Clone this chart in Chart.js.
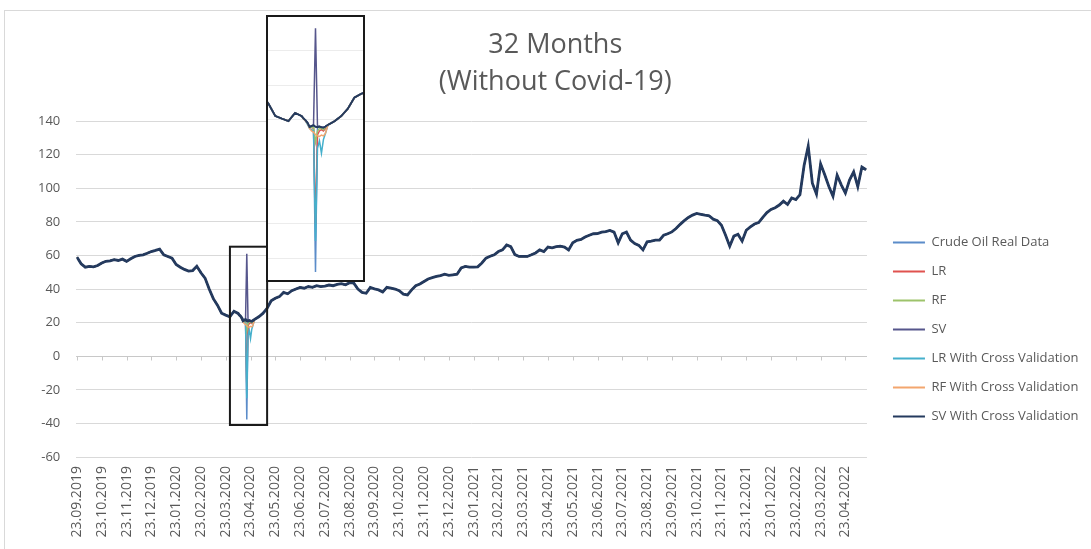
<!DOCTYPE html>
<html>
<head>
<meta charset="utf-8">
<title>32 Months (Without Covid-19)</title>
<script src="https://cdn.jsdelivr.net/npm/chart.js@4.4.1/dist/chart.umd.min.js"></script>
<style>
  html, body { margin: 0; padding: 0; background: #fff; overflow: hidden; }
  #frame { position: absolute; left: 4px; top: 10px; width: 1200px; height: 700px; border: 1px solid #d9d9d9; }
  #main { position: absolute; left: 0; top: 0; }
  #inset { position: absolute; left: 266px; top: 15px; width: 99px; height: 267px; box-sizing: border-box; border: 2px solid #1a1a1a; background: #fff; }
  #insetChart { display: block; }
</style>
</head>
<body>
<div id="frame"></div>
<canvas id="main" width="1091" height="549"></canvas>
<div id="inset"><canvas id="insetChart" width="95" height="263"></canvas></div>
<script>
// x axis labels (one per month, starting 23.09.2019)
const tickLabels = [
  '23.09.2019', '23.10.2019', '23.11.2019', '23.12.2019',
  '23.01.2020', '23.02.2020', '23.03.2020', '23.04.2020', '23.05.2020', '23.06.2020',
  '23.07.2020', '23.08.2020', '23.09.2020', '23.10.2020', '23.11.2020', '23.12.2020',
  '23.01.2021', '23.02.2021', '23.03.2021', '23.04.2021', '23.05.2021', '23.06.2021',
  '23.07.2021', '23.08.2021', '23.09.2021', '23.10.2021', '23.11.2021', '23.12.2021',
  '23.01.2022', '23.02.2022', '23.03.2022', '23.04.2022'
];

// crude oil price, 6 readings per month (null = covered by the daily window below)
const POINTS_PER_MONTH = 6;
const crudeOil = [
  59, 55, 53, 53.5, 53.2, 54,
  55.5, 56.5, 56.8, 57.5, 57, 57.8,
  56.5, 58, 59.4, 60, 60.4, 61.3,
  62.3, 63, 63.8, 60.4, 59.4, 58.4,
  54.6, 53, 51.7, 50.7, 51, 53.6,
  49.7, 46.5, 40, 34.3, 30.4, 25.6,
  24.5, 23.5, 26.8, 25.5, null, null,
  null, 22, 23.5, 25.5, 28.5, 33,
  34.5, 35.5, 38, 37.2, 39, 40,
  41, 40.5, 41.5, 41, 42, 41.5,
  41.8, 42.4, 42, 42.8, 43.2, 42.5,
  43.8, 43.5, 40, 38, 37.5, 41,
  40.1, 39.5, 38.2, 41, 40.5, 40,
  39, 37, 36.5, 39.5, 42, 43,
  44.5, 46, 46.8, 47.5, 48, 48.8,
  48.2, 48.5, 48.8, 52.6, 53.5, 53,
  53, 53.2, 55.5, 58.4, 59.5, 60.4,
  62.3, 63.3, 66.2, 65.2, 60.5, 59.4,
  59.4, 59.4, 60.4, 61.5, 63.3, 62.3,
  65, 64.5, 65.2, 65.5, 65, 63.3,
  67.5, 69, 69.5, 71, 72, 72.9,
  73, 73.9, 74.2, 74.9, 73.9, 67.5,
  72.9, 73.9, 69.1, 67.1, 66, 63.3,
  68.1, 68.5, 69.1, 69.1, 72, 72.9,
  74, 76, 78.5, 80.7, 82.6, 84,
  85, 84.5, 84, 83.6, 81.6, 80.7,
  78, 72, 65.5, 71.5, 72.6, 68.5,
  75, 77, 78.7, 79.5, 82.6, 85.5,
  87.4, 88.4, 90, 92.3, 90.3, 94.2,
  93.2, 96.1, 113.5, 125, 103, 96.5,
  114.5, 108, 101, 95.2, 107.7, 102,
  97.1, 104.8, 109.7, 101, 112.6, 111
];

// daily window around 20.04.2020 (months since 23.09.2019)
const windowMonths = [6.55, 6.6, 6.65, 6.7, 6.75, 6.8, 6.85, 6.9, 6.95, 7.0, 7.05, 7.1];
const realWindow = [24.5, 23.8, 22.8, 21.1, 21.5, 21.8, -37.6, 21, 21.3, 21, 20.8, 21.3];
const lrWindow   = [24.5, 23.5, 22.5, 20.8, 21, 20.5, -18, 18, 19.5, 20, 19.5, 20.5];
const rfWindow   = [24.5, 23.8, 22.8, 21, 21, 21, 15, 19.5, 20.5, 20.5, 20, 21];
const svWindow   = [24.5, 23.8, 22.8, 21.1, 21.5, 22, 61, 21.5, 21.3, 21, 21, 21.3];
const lrCvWindow = [24.3, 23.5, 22, 20.5, 20, 19.5, -25, 12.5, 15.5, 10.5, 16, 18.5];
const rfCvWindow = [24.3, 23.5, 22.5, 20.5, 19.5, 19, 18, 17.5, 17.3, 17.8, 17.5, 18.5];
const svCvWindow = [24.5, 23.8, 22.8, 21.1, 21.5, 21.8, 21.2, 21, 21.3, 21, 20.8, 21.3];

const seriesNames = [
  'Crude Oil Real Data', 'LR', 'RF', 'SV',
  'LR With Cross Validation', 'RF With Cross Validation', 'SV With Cross Validation'
];
const seriesWindows = [realWindow, lrWindow, rfWindow, svWindow, lrCvWindow, rfCvWindow, svCvWindow];
const seriesColors = ['#5b8cc9', '#e0524f', '#9dc36b', '#56568c', '#45b0cc', '#f3a66e', '#243a5e'];

// zoom box drawn on the main chart, and the range shown in the inset
const zoomBox = { from: 6.17, to: 7.67, low: -40.9, high: 65.2 };
const insetRange = { xMin: 5.65, xMax: 8.05, yMin: -40.8, yMax: 65.6 };
const insetGrid = [52, 38, 24, 10, -4, -18, -32];

const TEXT = '#595959';
Chart.defaults.font.family = "'Open Sans', sans-serif";
Chart.defaults.color = TEXT;

function buildSeries(windowValues) {
  const pts = [];
  crudeOil.forEach((v, i) => {
    if (v !== null) pts.push({ x: i / POINTS_PER_MONTH, y: v });
  });
  windowMonths.forEach((m, k) => pts.push({ x: m, y: windowValues[k] }));
  return pts.sort((a, b) => a.x - b.x);
}

function makeDatasets(navyWidth, otherWidth) {
  return seriesNames.map((name, i) => ({
    label: name,
    data: buildSeries(seriesWindows[i]),
    borderColor: seriesColors[i],
    backgroundColor: seriesColors[i],
    borderWidth: i === 6 ? navyWidth : otherWidth,
    pointRadius: 0,
    tension: 0,
    fill: false,
    order: seriesNames.length - 1 - i   // last series on top, like Excel
  }));
}

// small tick marks on the horizontal axis (crosses at 0)
const axisTicks = {
  id: 'axisTicks',
  beforeDatasetsDraw(chart) {
    const { ctx, scales: { x, y } } = chart;
    const y0 = Math.round(y.getPixelForValue(0)) + 0.5;
    ctx.save();
    ctx.strokeStyle = '#c8c8c8';
    ctx.lineWidth = 1;
    ctx.beginPath();
    ctx.moveTo(chart.chartArea.left, y0);
    ctx.lineTo(chart.chartArea.right, y0);
    tickLabels.forEach((_, i) => {
      const px = Math.round(x.getPixelForValue(i)) + 0.5;
      ctx.moveTo(px, y0);
      ctx.lineTo(px, y0 + 4);
    });
    ctx.stroke();
    ctx.restore();
  }
};

// black frame marking the zoomed region
const zoomFrame = {
  id: 'zoomFrame',
  afterDatasetsDraw(chart) {
    const { ctx, scales: { x, y } } = chart;
    const x1 = x.getPixelForValue(zoomBox.from);
    const x2 = x.getPixelForValue(zoomBox.to);
    const y1 = y.getPixelForValue(zoomBox.high);
    const y2 = y.getPixelForValue(zoomBox.low);
    ctx.save();
    ctx.strokeStyle = '#1a1a1a';
    ctx.lineWidth = 2;
    ctx.strokeRect(x1, y1, x2 - x1, y2 - y1);
    ctx.restore();
  }
};

new Chart(document.getElementById('main'), {
  type: 'line',
  data: { datasets: makeDatasets(2.8, 1.5) },
  options: {
    responsive: false,
    animation: false,
    layout: { padding: { left: 22, right: 2.5, top: 0, bottom: 2.5 } },
    plugins: {
      tooltip: { enabled: false },
      title: {
        display: true,
        text: ['32 Months', '(Without Covid-19)'],
        color: TEXT,
        font: { size: 27, weight: 'normal', lineHeight: '37px' },
        padding: { top: 26.5, bottom: 20.5 }
      },
      legend: {
        position: 'right',
        title: { display: true, text: '', padding: { top: 87, bottom: 0 }, font: { size: 13 } },
        labels: {
          usePointStyle: true,
          pointStyle: 'line',
          pointStyleWidth: 32,
          padding: 26,
          color: TEXT,
          font: { size: 13, lineHeight: '3px' },
          sort: (a, b) => a.datasetIndex - b.datasetIndex,
          generateLabels: chart => Chart.defaults.plugins.legend.labels.generateLabels(chart)
            .map(item => Object.assign(item, { text: [item.text], lineWidth: 2 }))
        }
      }
    },
    scales: {
      x: {
        type: 'linear',
        min: -0.028,
        max: 31.87,
        grid: { display: false, drawTicks: false },
        border: { display: false },
        afterBuildTicks: axis => { axis.ticks = tickLabels.map((_, i) => ({ value: i })); },
        ticks: {
          autoSkip: false,
          minRotation: 90,
          maxRotation: 90,
          padding: 9,
          color: TEXT,
          font: { size: 14 },
          callback: value => tickLabels[value]
        }
      },
      y: {
        min: -60,
        max: 140,
        grid: { color: '#d9d9d9', drawTicks: false },
        border: { display: false },
        ticks: { stepSize: 20, padding: 16, color: TEXT, font: { size: 13 } }
      }
    }
  },
  plugins: [axisTicks, zoomFrame]
});

// magnified view of the April 2020 crash
new Chart(document.getElementById('insetChart'), {
  type: 'line',
  data: { datasets: makeDatasets(2, 1.5) },
  options: {
    responsive: false,
    animation: false,
    layout: { padding: 0 },
    plugins: { legend: { display: false }, title: { display: false }, tooltip: { enabled: false } },
    scales: {
      x: { type: 'linear', min: insetRange.xMin, max: insetRange.xMax, display: false },
      y: {
        min: insetRange.yMin,
        max: insetRange.yMax,
        grid: { color: '#ececec', drawTicks: false },
        border: { display: false },
        afterBuildTicks: axis => { axis.ticks = insetGrid.map(v => ({ value: v })); },
        ticks: { display: false }
      }
    }
  }
});
</script>
</body>
</html>
